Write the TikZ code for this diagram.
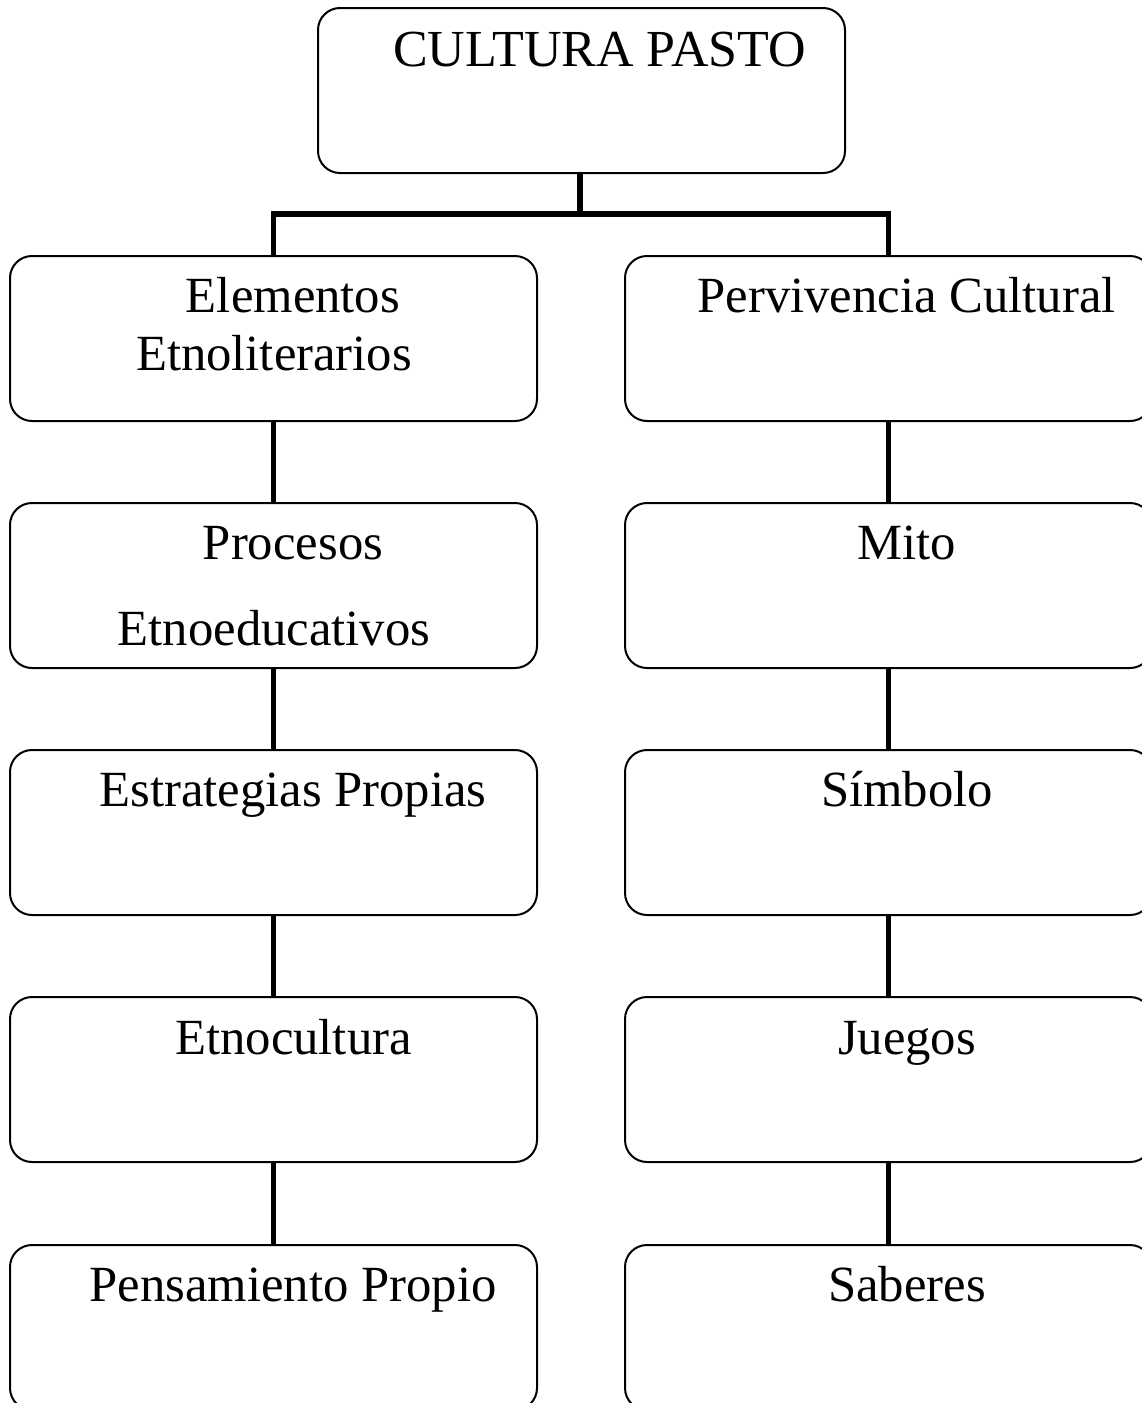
\documentclass[tikz,border=0pt]{standalone}
\usepackage{fontspec}
\setmainfont{Liberation Serif}
\begin{document}
\begin{tikzpicture}[x=1pt,y=-1pt,
  box/.style={draw=black,line width=2pt,rounded corners=22pt,minimum width=527pt,minimum height=165pt,inner sep=0pt,outer sep=0pt},
  lbl/.style={anchor=base,inner sep=0pt,font=\fontsize{50.7}{60}\selectfont},
  conn/.style={line width=5.5pt,line join=miter}]
\clip (0,0) rectangle (1142,1403);
\fill[white] (0,0) rectangle (1142,1403);
% boxes
\node[box] (top) at (581.5,90.5) {};
\node[box] (l1) at (273.5,338.5) {};
\node[box] (l2) at (273.5,585.5) {};
\node[box] (l3) at (273.5,832.5) {};
\node[box] (l4) at (273.5,1079.5) {};
\node[box] (l5) at (273.5,1327.5) {};
\node[box] (r1) at (888.5,338.5) {};
\node[box] (r2) at (888.5,585.5) {};
\node[box] (r3) at (888.5,832.5) {};
\node[box] (r4) at (888.5,1079.5) {};
\node[box] (r5) at (888.5,1327.5) {};
% labels
\node[lbl,font=\fontsize{52}{60}\selectfont] (ttop) at (599.5,66) {CULTURA PASTO};
\node[lbl] (tl1a) at (293,312) {Elementos};
\node[lbl] (tl1b) at (274,370) {Etnoliterarios};
\node[lbl] (tl2a) at (293,559) {Procesos};
\node[lbl] (tl2b) at (274,645) {Etnoeducativos};
\node[lbl] (tl3) at (293,806) {Estrategias Propias};
\node[lbl] (tl4) at (293.5,1054) {Etnocultura};
\node[lbl] (tl5) at (293,1301) {Pensamiento Propio};
\node[lbl] (tr1) at (906.5,312) {Pervivencia Cultural};
\node[lbl] (tr2) at (907,559) {Mito};
\node[lbl] (tr3) at (907,806) {Símbolo};
\node[lbl] (tr4) at (907,1054) {Juegos};
\node[lbl] (tr5) at (907,1301) {Saberes};
% connectors
\coordinate (j) at (580,214);
\draw[conn] (top.south -| j) -- (j);
\draw[conn] (l1.north) |- (j) -| (r1.north);
\draw[conn] (l1.south) -- (l2.north);
\draw[conn] (l2.south) -- (l3.north);
\draw[conn] (l3.south) -- (l4.north);
\draw[conn] (l4.south) -- (l5.north);
\draw[conn] (r1.south) -- (r2.north);
\draw[conn] (r2.south) -- (r3.north);
\draw[conn] (r3.south) -- (r4.north);
\draw[conn] (r4.south) -- (r5.north);
\end{tikzpicture}
\end{document}
